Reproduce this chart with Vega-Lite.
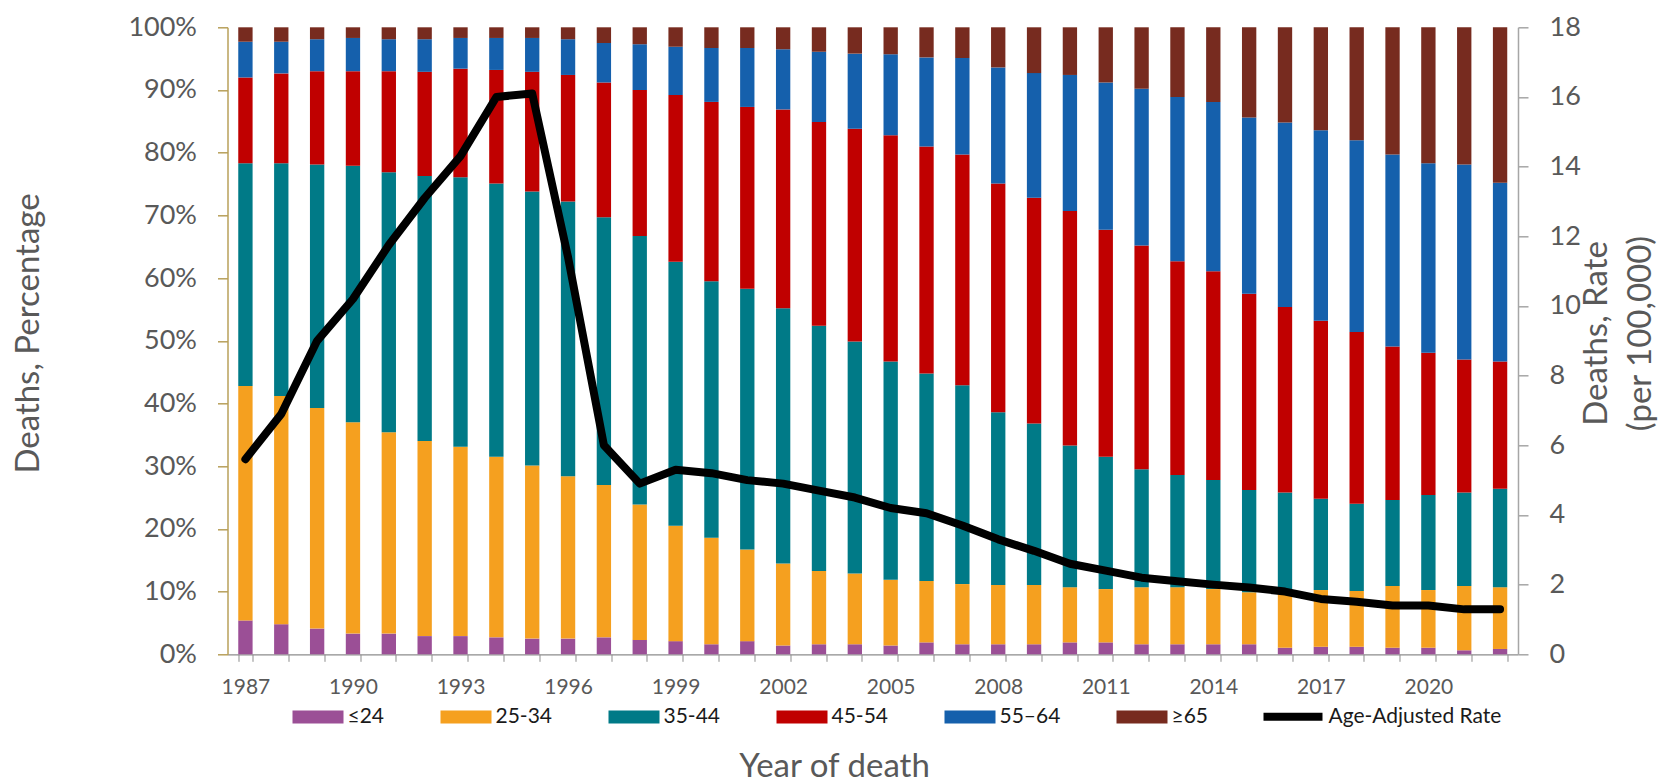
{
  "$schema": "https://vega.github.io/schema/vega-lite/v6.json",
  "autosize": {"type": "none"},
  "width": 1290.5,
  "height": 627,
  "padding": {"left": 227.5, "top": 27.3, "right": 143, "bottom": 130},
  "background": "white",
  "config": {
    "font": "Lato",
    "view": {"stroke": null},
    "axis": {"grid": false, "labelFont": "Lato", "titleFont": "Lato", "titleFontWeight": "normal"},
    "legend": {"labelFont": "Lato", "labelFontSize": 21, "labelColor": "#1a1a1a", "padding": 0, "labelLimit": 400}
  },
  "datasets": {
    "ages": [
      {"age": "≤24", "rank": 1}, {"age": "25-34", "rank": 2}, {"age": "35-44", "rank": 3},
      {"age": "45-54", "rank": 4}, {"age": "55–64", "rank": 5}, {"age": "≥65", "rank": 6}
    ],
    "shares": [
      {"year":1987,"age":"≤24","pct":5.4},{"year":1987,"age":"25-34","pct":37.4},{"year":1987,"age":"35-44","pct":35.5},{"year":1987,"age":"45-54","pct":13.7},{"year":1987,"age":"55–64","pct":5.7},{"year":1987,"age":"≥65","pct":2.3},
      {"year":1988,"age":"≤24","pct":4.8},{"year":1988,"age":"25-34","pct":36.4},{"year":1988,"age":"35-44","pct":37.1},{"year":1988,"age":"45-54","pct":14.35},{"year":1988,"age":"55–64","pct":5.05},{"year":1988,"age":"≥65","pct":2.3},
      {"year":1989,"age":"≤24","pct":4.1},{"year":1989,"age":"25-34","pct":35.2},{"year":1989,"age":"35-44","pct":38.8},{"year":1989,"age":"45-54","pct":14.9},{"year":1989,"age":"55–64","pct":5.1},{"year":1989,"age":"≥65","pct":1.9},
      {"year":1990,"age":"≤24","pct":3.3},{"year":1990,"age":"25-34","pct":33.7},{"year":1990,"age":"35-44","pct":40.9},{"year":1990,"age":"45-54","pct":15.1},{"year":1990,"age":"55–64","pct":5.3},{"year":1990,"age":"≥65","pct":1.7},
      {"year":1991,"age":"≤24","pct":3.3},{"year":1991,"age":"25-34","pct":32.1},{"year":1991,"age":"35-44","pct":41.5},{"year":1991,"age":"45-54","pct":16.1},{"year":1991,"age":"55–64","pct":5.1},{"year":1991,"age":"≥65","pct":1.9},
      {"year":1992,"age":"≤24","pct":2.9},{"year":1992,"age":"25-34","pct":31.1},{"year":1992,"age":"35-44","pct":42.3},{"year":1992,"age":"45-54","pct":16.6},{"year":1992,"age":"55–64","pct":5.2},{"year":1992,"age":"≥65","pct":1.9},
      {"year":1993,"age":"≤24","pct":2.9},{"year":1993,"age":"25-34","pct":30.2},{"year":1993,"age":"35-44","pct":43.0},{"year":1993,"age":"45-54","pct":17.3},{"year":1993,"age":"55–64","pct":4.9},{"year":1993,"age":"≥65","pct":1.7},
      {"year":1994,"age":"≤24","pct":2.7},{"year":1994,"age":"25-34","pct":28.8},{"year":1994,"age":"35-44","pct":43.6},{"year":1994,"age":"45-54","pct":18.1},{"year":1994,"age":"55–64","pct":5.1},{"year":1994,"age":"≥65","pct":1.7},
      {"year":1995,"age":"≤24","pct":2.5},{"year":1995,"age":"25-34","pct":27.6},{"year":1995,"age":"35-44","pct":43.7},{"year":1995,"age":"45-54","pct":19.1},{"year":1995,"age":"55–64","pct":5.4},{"year":1995,"age":"≥65","pct":1.7},
      {"year":1996,"age":"≤24","pct":2.5},{"year":1996,"age":"25-34","pct":25.9},{"year":1996,"age":"35-44","pct":43.8},{"year":1996,"age":"45-54","pct":20.2},{"year":1996,"age":"55–64","pct":5.7},{"year":1996,"age":"≥65","pct":1.9},
      {"year":1997,"age":"≤24","pct":2.7},{"year":1997,"age":"25-34","pct":24.3},{"year":1997,"age":"35-44","pct":42.7},{"year":1997,"age":"45-54","pct":21.5},{"year":1997,"age":"55–64","pct":6.3},{"year":1997,"age":"≥65","pct":2.5},
      {"year":1998,"age":"≤24","pct":2.3},{"year":1998,"age":"25-34","pct":21.6},{"year":1998,"age":"35-44","pct":42.8},{"year":1998,"age":"45-54","pct":23.3},{"year":1998,"age":"55–64","pct":7.3},{"year":1998,"age":"≥65","pct":2.7},
      {"year":1999,"age":"≤24","pct":2.1},{"year":1999,"age":"25-34","pct":18.4},{"year":1999,"age":"35-44","pct":42.1},{"year":1999,"age":"45-54","pct":26.6},{"year":1999,"age":"55–64","pct":7.7},{"year":1999,"age":"≥65","pct":3.1},
      {"year":2000,"age":"≤24","pct":1.6},{"year":2000,"age":"25-34","pct":17.0},{"year":2000,"age":"35-44","pct":40.9},{"year":2000,"age":"45-54","pct":28.6},{"year":2000,"age":"55–64","pct":8.6},{"year":2000,"age":"≥65","pct":3.3},
      {"year":2001,"age":"≤24","pct":2.1},{"year":2001,"age":"25-34","pct":14.6},{"year":2001,"age":"35-44","pct":41.6},{"year":2001,"age":"45-54","pct":29.0},{"year":2001,"age":"55–64","pct":9.4},{"year":2001,"age":"≥65","pct":3.3},
      {"year":2002,"age":"≤24","pct":1.4},{"year":2002,"age":"25-34","pct":13.1},{"year":2002,"age":"35-44","pct":40.7},{"year":2002,"age":"45-54","pct":31.7},{"year":2002,"age":"55–64","pct":9.6},{"year":2002,"age":"≥65","pct":3.5},
      {"year":2003,"age":"≤24","pct":1.6},{"year":2003,"age":"25-34","pct":11.7},{"year":2003,"age":"35-44","pct":39.1},{"year":2003,"age":"45-54","pct":32.5},{"year":2003,"age":"55–64","pct":11.2},{"year":2003,"age":"≥65","pct":3.9},
      {"year":2004,"age":"≤24","pct":1.6},{"year":2004,"age":"25-34","pct":11.3},{"year":2004,"age":"35-44","pct":37.0},{"year":2004,"age":"45-54","pct":33.9},{"year":2004,"age":"55–64","pct":12.0},{"year":2004,"age":"≥65","pct":4.2},
      {"year":2005,"age":"≤24","pct":1.4},{"year":2005,"age":"25-34","pct":10.5},{"year":2005,"age":"35-44","pct":34.8},{"year":2005,"age":"45-54","pct":36.1},{"year":2005,"age":"55–64","pct":12.9},{"year":2005,"age":"≥65","pct":4.3},
      {"year":2006,"age":"≤24","pct":1.9},{"year":2006,"age":"25-34","pct":9.8},{"year":2006,"age":"35-44","pct":33.1},{"year":2006,"age":"45-54","pct":36.2},{"year":2006,"age":"55–64","pct":14.2},{"year":2006,"age":"≥65","pct":4.8},
      {"year":2007,"age":"≤24","pct":1.6},{"year":2007,"age":"25-34","pct":9.6},{"year":2007,"age":"35-44","pct":31.7},{"year":2007,"age":"45-54","pct":36.8},{"year":2007,"age":"55–64","pct":15.4},{"year":2007,"age":"≥65","pct":4.9},
      {"year":2008,"age":"≤24","pct":1.6},{"year":2008,"age":"25-34","pct":9.45},{"year":2008,"age":"35-44","pct":27.55},{"year":2008,"age":"45-54","pct":36.5},{"year":2008,"age":"55–64","pct":18.5},{"year":2008,"age":"≥65","pct":6.4},
      {"year":2009,"age":"≤24","pct":1.6},{"year":2009,"age":"25-34","pct":9.45},{"year":2009,"age":"35-44","pct":25.75},{"year":2009,"age":"45-54","pct":36.0},{"year":2009,"age":"55–64","pct":19.9},{"year":2009,"age":"≥65","pct":7.3},
      {"year":2010,"age":"≤24","pct":1.9},{"year":2010,"age":"25-34","pct":8.8},{"year":2010,"age":"35-44","pct":22.6},{"year":2010,"age":"45-54","pct":37.4},{"year":2010,"age":"55–64","pct":21.7},{"year":2010,"age":"≥65","pct":7.6},
      {"year":2011,"age":"≤24","pct":1.9},{"year":2011,"age":"25-34","pct":8.5},{"year":2011,"age":"35-44","pct":21.1},{"year":2011,"age":"45-54","pct":36.2},{"year":2011,"age":"55–64","pct":23.5},{"year":2011,"age":"≥65","pct":8.8},
      {"year":2012,"age":"≤24","pct":1.6},{"year":2012,"age":"25-34","pct":9.1},{"year":2012,"age":"35-44","pct":18.8},{"year":2012,"age":"45-54","pct":35.7},{"year":2012,"age":"55–64","pct":25.0},{"year":2012,"age":"≥65","pct":9.8},
      {"year":2013,"age":"≤24","pct":1.6},{"year":2013,"age":"25-34","pct":9.1},{"year":2013,"age":"35-44","pct":17.9},{"year":2013,"age":"45-54","pct":34.1},{"year":2013,"age":"55–64","pct":26.2},{"year":2013,"age":"≥65","pct":11.1},
      {"year":2014,"age":"≤24","pct":1.6},{"year":2014,"age":"25-34","pct":8.8},{"year":2014,"age":"35-44","pct":17.4},{"year":2014,"age":"45-54","pct":33.3},{"year":2014,"age":"55–64","pct":27.0},{"year":2014,"age":"≥65","pct":11.9},
      {"year":2015,"age":"≤24","pct":1.6},{"year":2015,"age":"25-34","pct":8.3},{"year":2015,"age":"35-44","pct":16.3},{"year":2015,"age":"45-54","pct":31.3},{"year":2015,"age":"55–64","pct":28.1},{"year":2015,"age":"≥65","pct":14.4},
      {"year":2016,"age":"≤24","pct":1.05},{"year":2016,"age":"25-34","pct":8.65},{"year":2016,"age":"35-44","pct":16.1},{"year":2016,"age":"45-54","pct":29.6},{"year":2016,"age":"55–64","pct":29.4},{"year":2016,"age":"≥65","pct":15.2},
      {"year":2017,"age":"≤24","pct":1.2},{"year":2017,"age":"25-34","pct":9.05},{"year":2017,"age":"35-44","pct":14.55},{"year":2017,"age":"45-54","pct":28.4},{"year":2017,"age":"55–64","pct":30.4},{"year":2017,"age":"≥65","pct":16.4},
      {"year":2018,"age":"≤24","pct":1.2},{"year":2018,"age":"25-34","pct":8.9},{"year":2018,"age":"35-44","pct":13.9},{"year":2018,"age":"45-54","pct":27.4},{"year":2018,"age":"55–64","pct":30.6},{"year":2018,"age":"≥65","pct":18.0},
      {"year":2019,"age":"≤24","pct":1.05},{"year":2019,"age":"25-34","pct":9.85},{"year":2019,"age":"35-44","pct":13.7},{"year":2019,"age":"45-54","pct":24.5},{"year":2019,"age":"55–64","pct":30.6},{"year":2019,"age":"≥65","pct":20.3},
      {"year":2020,"age":"≤24","pct":1.05},{"year":2020,"age":"25-34","pct":9.2},{"year":2020,"age":"35-44","pct":15.15},{"year":2020,"age":"45-54","pct":22.7},{"year":2020,"age":"55–64","pct":30.2},{"year":2020,"age":"≥65","pct":21.7},
      {"year":2021,"age":"≤24","pct":0.64},{"year":2021,"age":"25-34","pct":10.26},{"year":2021,"age":"35-44","pct":14.9},{"year":2021,"age":"45-54","pct":21.2},{"year":2021,"age":"55–64","pct":31.1},{"year":2021,"age":"≥65","pct":21.9},
      {"year":2022,"age":"≤24","pct":0.85},{"year":2022,"age":"25-34","pct":9.85},{"year":2022,"age":"35-44","pct":15.7},{"year":2022,"age":"45-54","pct":20.3},{"year":2022,"age":"55–64","pct":28.5},{"year":2022,"age":"≥65","pct":24.8}
    ],
    "rate": [
      {"year":1987,"rate":5.6},{"year":1988,"rate":6.9},{"year":1989,"rate":9.0},{"year":1990,"rate":10.2},
      {"year":1991,"rate":11.75},{"year":1992,"rate":13.1},{"year":1993,"rate":14.3},{"year":1994,"rate":16.0},
      {"year":1995,"rate":16.1},{"year":1996,"rate":11.4},{"year":1997,"rate":6.0},{"year":1998,"rate":4.9},
      {"year":1999,"rate":5.3},{"year":2000,"rate":5.2},{"year":2001,"rate":5.0},{"year":2002,"rate":4.9},
      {"year":2003,"rate":4.7},{"year":2004,"rate":4.5},{"year":2005,"rate":4.2},{"year":2006,"rate":4.05},
      {"year":2007,"rate":3.7},{"year":2008,"rate":3.3},{"year":2009,"rate":2.97},{"year":2010,"rate":2.6},
      {"year":2011,"rate":2.4},{"year":2012,"rate":2.2},{"year":2013,"rate":2.1},{"year":2014,"rate":2.0},
      {"year":2015,"rate":1.92},{"year":2016,"rate":1.8},{"year":2017,"rate":1.59},{"year":2018,"rate":1.51},
      {"year":2019,"rate":1.4},{"year":2020,"rate":1.4},{"year":2021,"rate":1.29},{"year":2022,"rate":1.29}
    ]
  },
  "encoding": {
    "x": {
      "field": "year", "type": "ordinal",
      "scale": {"paddingInner": 0.6, "paddingOuter": 0.3},
      "axis": {
        "tickBand": "extent",
        "labelExpr": "(datum.value - 1987) % 3 === 0 ? datum.label : ''",
        "labelAngle": 0, "labelFontSize": 21, "labelColor": "#595959", "labelPadding": 15,
        "tickColor": "#8c8c8c", "tickSize": 7, "domainColor": "#8c8c8c", "domainWidth": 1.3,
        "title": "Year of death", "titleFontSize": 33, "titleColor": "#595959",
        "titleX": 606.5, "titleY": 122, "titleAlign": "center", "titleBaseline": "alphabetic"
      }
    }
  },
  "layer": [
    {
      "data": {"name": "shares"},
      "transform": [{"lookup": "age", "from": {"data": {"name": "ages"}, "key": "age", "fields": ["rank"]}}],
      "mark": {"type": "bar"},
      "encoding": {
        "y": {
          "field": "pct", "type": "quantitative", "stack": "normalize",
          "scale": {"domain": [0, 1], "nice": false},
          "axis": {
            "orient": "left", "values": [0, 0.1, 0.2, 0.3, 0.4, 0.5, 0.6, 0.7, 0.8, 0.9, 1], "format": ".0%",
            "labelFontSize": 27, "labelColor": "#595959", "labelPadding": 21,
            "domainColor": "#B8A05A", "domainWidth": 1.5, "tickColor": "#B8A05A", "tickSize": 10, "tickWidth": 1.5,
            "title": "Deaths, Percentage", "titleFontSize": 33, "titleColor": "#595959",
            "titleAngle": 270, "titleX": -189.5, "titleY": 305.7, "titleAlign": "center", "titleBaseline": "alphabetic"
          }
        },
        "color": {
          "field": "age", "type": "nominal",
          "scale": {
            "domain": ["≤24", "25-34", "35-44", "45-54", "55–64", "≥65"],
            "range": ["#9B4F96", "#F5A01F", "#007A87", "#C00000", "#1560AC", "#772B1F"]
          },
          "legend": {
            "orient": "none", "legendX": 65, "legendY": 664, "direction": "horizontal", "columns": 6,
            "title": null, "symbolType": "M-1,-0.255H1V0.255H-1Z", "symbolSize": 2601, "symbolStrokeWidth": 0,
            "labelOffset": 4, "columnPadding": 56
          }
        },
        "order": {"field": "rank", "type": "quantitative", "sort": "ascending"}
      }
    },
    {
      "data": {"name": "rate"},
      "mark": {"type": "line", "strokeWidth": 8, "strokeCap": "round", "strokeJoin": "round"},
      "encoding": {
        "y": {
          "field": "rate", "type": "quantitative",
          "scale": {"domain": [0, 18], "nice": false},
          "axis": {
            "orient": "right", "values": [0, 2, 4, 6, 8, 10, 12, 14, 16, 18],
            "labelFontSize": 27, "labelColor": "#595959", "labelPadding": 21,
            "domainColor": "#A6A6A6", "domainWidth": 1.5, "tickColor": "#A6A6A6", "tickSize": 10, "tickWidth": 1.5,
            "title": ["Deaths, Rate", "(per 100,000)"], "titleFontSize": 33, "titleColor": "#595959",
            "titleAngle": 270, "titleX": 89, "titleY": 305.7, "titleAlign": "center", "titleBaseline": "alphabetic",
            "titleLineHeight": 43.5
          }
        },
        "color": {
          "datum": "Age-Adjusted Rate", "type": "nominal",
          "scale": {"range": ["#000000"]},
          "legend": {
            "orient": "none", "legendX": 1032, "legendY": 656, "title": null,
            "symbolType": "stroke", "symbolSize": 3481, "symbolStrokeWidth": 8, "labelOffset": 2
          }
        }
      }
    }
  ],
  "resolve": {"scale": {"y": "independent", "color": "independent"}, "axis": {"y": "independent"}}
}
